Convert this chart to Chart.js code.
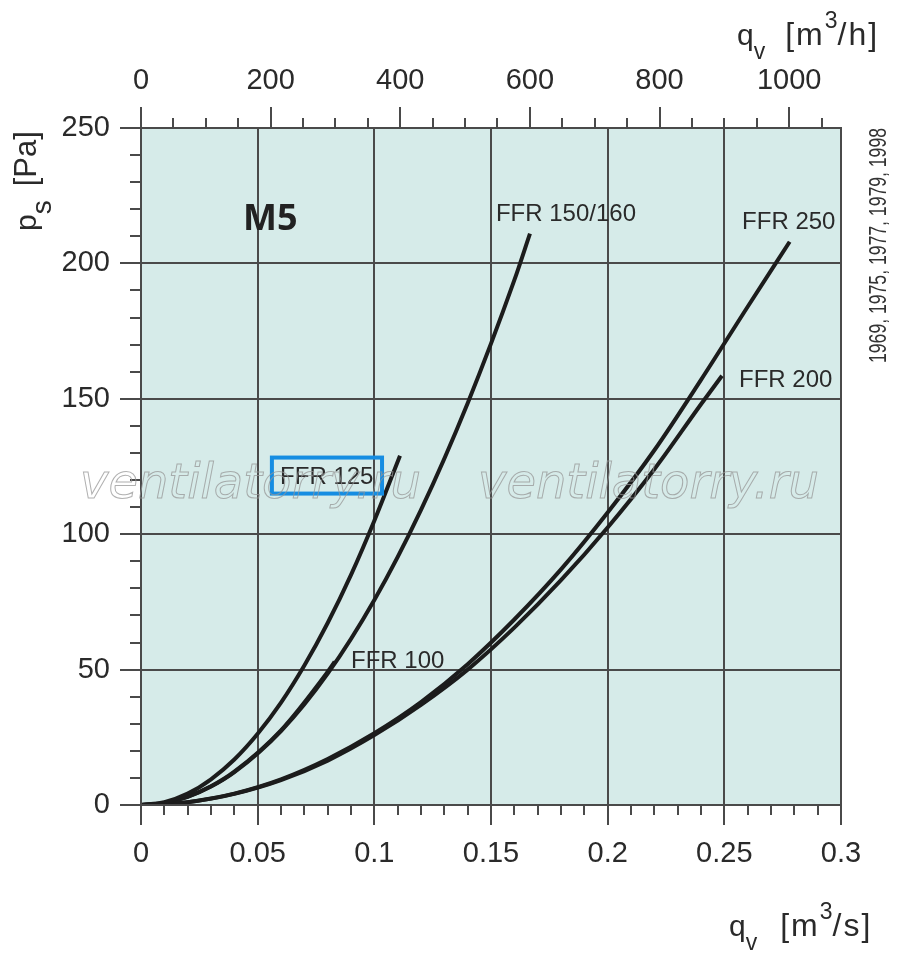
<!DOCTYPE html>
<html><head><meta charset="utf-8">
<script src="https://cdn.jsdelivr.net/npm/chart.js@4.4.0/dist/chart.umd.min.js"></script>
<style>html,body{margin:0;padding:0;background:#fff}#wrap{position:relative;width:900px;height:963px}</style>
</head><body><div id="wrap"><canvas id="c" width="900" height="963"></canvas></div>
<script>
// ---- tick values ----
const qTicksS = [0, 0.05, 0.1, 0.15, 0.2, 0.25, 0.3];
const qTicksH = [0, 200, 400, 600, 800, 1000];
const psTicks = [0, 50, 100, 150, 200, 250];

// ---- series (q in m3/s, ps in Pa) ----
const seriesNames = ['FFR 125', 'FFR 150/160', 'FFR 100', 'FFR 250', 'FFR 200'];
const ffr125Q = [0, 0.01, 0.02, 0.03, 0.04, 0.05, 0.06, 0.07, 0.08, 0.09, 0.1, 0.111];
const ffr125P = [0, 1.05, 4.2, 9.5, 16.8, 26.3, 37.8, 51.5, 67.2, 85, 105, 129];
const ffr150Q = [0, 0.01, 0.02, 0.03, 0.04, 0.06, 0.08, 0.1, 0.12, 0.14, 0.16, 0.1667];
const ffr150P = [0, 0.76, 3.0, 6.8, 12.1, 27.3, 48.5, 75.7, 109, 148.4, 193.8, 211];
const ffr100Q = [0, 0.01, 0.02, 0.03, 0.04, 0.06, 0.08, 0.083];
const ffr100P = [0, 0.77, 3.07, 6.9, 12.3, 27.6, 49.2, 52.9];
const ffr250Q = [0, 0.01, 0.02, 0.03, 0.04, 0.06, 0.08, 0.1, 0.12, 0.14, 0.16, 0.18, 0.2, 0.22, 0.24, 0.26, 0.278];
const ffr250P = [0, 0.27, 1.06, 2.4, 4.2, 9.5, 17, 26.5, 38, 52, 68.5, 87, 108, 131, 157, 184, 208];
const ffr200Q = [0, 0.01, 0.02, 0.03, 0.04, 0.06, 0.08, 0.1, 0.12, 0.14, 0.16, 0.18, 0.2, 0.22, 0.24, 0.249];
const ffr200P = [0, 0.26, 1.04, 2.35, 4.1, 9.2, 16.4, 25.8, 37, 50, 65.5, 83, 102.5, 124, 148, 158.5];

const seriesQ = [ffr125Q, ffr150Q, ffr100Q, ffr250Q, ffr200Q];
const seriesP = [ffr125P, ffr150P, ffr100P, ffr250P, ffr200P];

// ---- curve label texts and anchor (data coords) ----
const labelTexts = ['FFR 150/160', 'FFR 250', 'FFR 200', 'FFR 100', 'FFR 125'];
const labelQ = [0.1521, 0.2576, 0.2563, 0.0900, 0.0596];
const labelP = [218.2, 215.3, 156.9, 53.2, 121.1];

const FONT = '"Liberation Sans", Arial, Helvetica, sans-serif';
const INK = '#2a2a2a';
const GRID = '#4a4a4a';

const datasets = seriesNames.map((n, i) => ({
  label: n,
  data: seriesQ[i].map((q, j) => ({ x: q, y: seriesP[i][j] })),
  showLine: true,
  borderColor: '#1c1c1c',
  borderWidth: 4,
  borderCapStyle: 'butt',
  pointRadius: 0,
  cubicInterpolationMode: 'monotone',
  fill: false,
  xAxisID: 'x',
  yAxisID: 'y'
}));

function richText(ctx, parts, x, y) {
  let cx = x;
  for (const p of parts) {
    ctx.font = (p.bold ? 'bold ' : '') + p.size + 'px ' + FONT;
    if ('letterSpacing' in ctx) ctx.letterSpacing = (p.ls || 0) + 'px';
    cx += (p.gap || 0);
    ctx.fillText(p.t, cx, y + (p.dy || 0));
    cx += ctx.measureText(p.t).width;
  }
  if ('letterSpacing' in ctx) ctx.letterSpacing = '0px';
}

const decor = {
  id: 'decor',
  beforeDraw(chart) {
    const { ctx, chartArea: a } = chart;
    ctx.save();
    ctx.fillStyle = '#d6ebe9';
    ctx.fillRect(a.left, a.top, a.right - a.left, a.bottom - a.top);
    ctx.restore();
  },
  afterDraw(chart) {
    const { ctx, chartArea: a, scales } = chart;
    const xs = scales.x, ys = scales.y, xh = scales.x2;
    ctx.save();
    // frame
    ctx.strokeStyle = GRID; ctx.lineWidth = 2;
    ctx.strokeRect(a.left, a.top, a.right - a.left, a.bottom - a.top);
    // ticks
    ctx.beginPath();
    for (let v = 0; v <= 250 + 1e-6; v += 10) {
      const y = Math.round(ys.getPixelForValue(v));
      const major = Math.abs(v % 50) < 1e-6;
      ctx.moveTo(a.left - (major ? 21 : 11), y); ctx.lineTo(a.left, y);
    }
    for (let i = 0; i <= 30; i++) {
      const q = i / 100;
      const x = Math.round(xs.getPixelForValue(q));
      const major = i % 5 === 0;
      ctx.moveTo(x, a.bottom); ctx.lineTo(x, a.bottom + (major ? 20 : 10));
    }
    for (let m = 0; m <= 1050; m += 50) {
      const x = Math.round(xh.getPixelForValue(m));
      const major = m % 200 === 0;
      ctx.moveTo(x, a.top); ctx.lineTo(x, a.top - (major ? 21 : 10));
    }
    ctx.stroke();

    // curve labels
    ctx.fillStyle = INK;
    ctx.textBaseline = 'middle';
    ctx.textAlign = 'left';
    ctx.font = '24px ' + FONT;
    labelTexts.forEach((t, i) => {
      ctx.fillText(t, xs.getPixelForValue(labelQ[i]), ys.getPixelForValue(labelP[i]));
    });
    // M5
    ctx.font = 'bold 36px "Open Sans", "DejaVu Sans", sans-serif';
    ctx.fillStyle = '#222';
    ctx.fillText('M5', xs.getPixelForValue(0.0437), ys.getPixelForValue(216));

    // blue box round FFR 125
    ctx.strokeStyle = '#168de2'; ctx.lineWidth = 4;
    const bx1 = xs.getPixelForValue(0.0561), bx2 = xs.getPixelForValue(0.1033);
    const by1 = ys.getPixelForValue(128.3), by2 = ys.getPixelForValue(115.0);
    ctx.strokeRect(bx1, by1, bx2 - bx1, by2 - by1);

    // watermark
    ctx.font = 'italic 48px "DejaVu Sans", sans-serif';
    ctx.textBaseline = 'alphabetic';
    ctx.strokeStyle = 'rgba(150,150,150,0.75)'; ctx.lineWidth = 1;
    ctx.strokeText('ventilatorry.ru', 80, 498);
    ctx.strokeText('ventilatorry.ru', 478, 498);

    // axis titles
    ctx.fillStyle = INK;
    ctx.textBaseline = 'alphabetic';
    richText(ctx, [
      { t: 'q', size: 30 }, { t: 'v', size: 23, dy: 14 },
      { t: '[m', size: 32, gap: 20, ls: 2 }, { t: '3', size: 23, dy: -17 }, { t: '/h]', size: 32, ls: 2 }
    ], 737, 45);
    richText(ctx, [
      { t: 'q', size: 30 }, { t: 'v', size: 23, dy: 14 },
      { t: '[m', size: 32, gap: 23, ls: 2 }, { t: '3', size: 23, dy: -17 }, { t: '/s]', size: 32, ls: 2 }
    ], 729, 936);
    ctx.save();
    ctx.translate(36, 231);
    ctx.rotate(-Math.PI / 2);
    richText(ctx, [
      { t: 'p', size: 30 }, { t: 's', size: 28, dy: 15 }, { t: '[Pa]', size: 31, gap: 14 }
    ], 0, 0);
    ctx.restore();

    // right side years text (condensed)
    ctx.save();
    ctx.font = '24px ' + FONT;
    ctx.fillStyle = '#333';
    const yt = '1969, 1975, 1977, 1979, 1998';
    const w = ctx.measureText(yt).width;
    ctx.translate(886, 363);
    ctx.rotate(-Math.PI / 2);
    ctx.scale(235 / w, 1);
    ctx.fillText(yt, 0, 0);
    ctx.restore();

    ctx.restore();
  }
};

const tickFont = { family: FONT, size: 29 };
new Chart(document.getElementById('c'), {
  type: 'scatter',
  data: { datasets },
  options: {
    responsive: false,
    animation: false,
    devicePixelRatio: 1,
    layout: { padding: { left: 0, right: 59, top: 0, bottom: 0 } },
    plugins: { legend: { display: false }, tooltip: { enabled: false } },
    scales: {
      x: {
        type: 'linear', position: 'bottom', min: 0, max: 0.3,
        afterBuildTicks: s => { s.ticks = qTicksS.map(v => ({ value: v })); },
        afterFit: s => { s.height = 158; },
        ticks: { font: tickFont, color: INK, padding: 32, maxRotation: 0,
          callback: v => String(parseFloat(Number(v).toFixed(2))) },
        grid: { color: GRID, lineWidth: 2, drawTicks: false },
        border: { display: false }
      },
      x2: {
        type: 'linear', position: 'top', min: 0, max: 1080,
        afterBuildTicks: s => { s.ticks = qTicksH.map(v => ({ value: v })); },
        afterFit: s => { s.height = 128; },
        ticks: { font: tickFont, color: INK, padding: 30, maxRotation: 0,
          callback: v => String(v) },
        grid: { drawOnChartArea: false, drawTicks: false },
        border: { display: false }
      },
      y: {
        type: 'linear', position: 'left', min: 0, max: 250,
        afterBuildTicks: s => { s.ticks = psTicks.map(v => ({ value: v })); },
        afterFit: s => { s.width = 141; },
        ticks: { font: tickFont, color: INK, padding: 31, callback: v => String(v) },
        grid: { color: GRID, lineWidth: 2, drawTicks: false },
        border: { display: false }
      }
    }
  },
  plugins: [decor]
});
</script>
</body></html>
